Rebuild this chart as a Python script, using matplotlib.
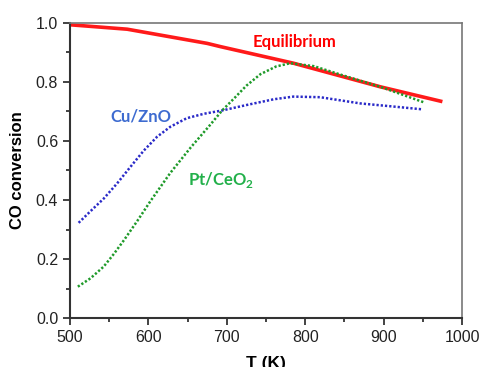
import matplotlib
matplotlib.use("Agg")
import matplotlib.pyplot as plt
from matplotlib.ticker import MultipleLocator

plt.rcParams["font.family"] = ["Liberation Sans", "DejaVu Sans"]

# Data
t_eq = [500, 573, 675, 692, 785, 896, 975]
x_eq = [0.993, 0.978, 0.930, 0.919, 0.863, 0.783, 0.733]

t_cu = [511, 526, 543, 560, 577, 594, 611, 628, 649, 671, 694, 726, 760, 785, 819, 870, 910, 949]
x_cu = [0.323, 0.362, 0.405, 0.456, 0.512, 0.567, 0.614, 0.648, 0.677, 0.692, 0.703, 0.722, 0.741, 0.750, 0.748, 0.727, 0.717, 0.707]

t_pt = [510, 526, 543, 556, 569, 586, 603, 628, 654, 679, 694, 709, 725, 743, 763, 781, 811, 854, 896, 951]
x_pt = [0.107, 0.135, 0.175, 0.218, 0.265, 0.330, 0.398, 0.492, 0.578, 0.655, 0.703, 0.743, 0.787, 0.826, 0.852, 0.863, 0.853, 0.817, 0.783, 0.731]

fig = plt.figure(figsize=(4.79, 3.67), dpi=100)
ax = fig.add_axes([70 / 479, 1 - 318.3 / 367, 392 / 479, 295.6 / 367])

ax.plot(t_eq, x_eq, color="#ff1a1a", lw=2.6, solid_capstyle="butt")
ax.plot(t_cu, x_cu, color="#2a2ac8", lw=1.8, linestyle=(0, (0.9, 0.8)))
ax.plot(t_pt, x_pt, color="#1f9a2a", lw=1.8, linestyle=(0, (0.9, 0.8)))

lab = dict(fontsize=12, fontweight="bold", family="Lato", ha="center", va="center")
ax.text(786, 0.935, "Equilibrium", color="#ff0000", **lab)
ax.text(590, 0.681, "Cu/ZnO", color="#3d6bd0", **lab)
ax.text(692, 0.468, "Pt/CeO$_\\mathregular{2}$", color="#22b04a", **lab)

ax.set_xlim(500, 1000)
ax.set_ylim(0.0, 1.0)
ax.xaxis.set_major_locator(MultipleLocator(100))
ax.xaxis.set_minor_locator(MultipleLocator(50))
ax.yaxis.set_major_locator(MultipleLocator(0.2))
ax.yaxis.set_minor_locator(MultipleLocator(0.1))
ax.yaxis.set_major_formatter(plt.FormatStrFormatter("%.1f"))
ax.tick_params(which="both", direction="out", labelsize=11.5, colors="#222222")
ax.tick_params(which="major", length=5, width=1.2)
ax.tick_params(which="minor", length=3, width=1.2)

for s in ["left", "bottom"]:
    ax.spines[s].set_color("#333333")
    ax.spines[s].set_linewidth(1.5)
for s in ["top", "right"]:
    ax.spines[s].set_color("#777777")
    ax.spines[s].set_linewidth(1.2)

ax.set_ylabel("CO conversion", fontsize=12, fontweight="bold", labelpad=8)
ax.set_xlabel("T (K)", fontsize=12.5, fontweight="bold", labelpad=8)

plt.savefig("out.png", dpi=100)
